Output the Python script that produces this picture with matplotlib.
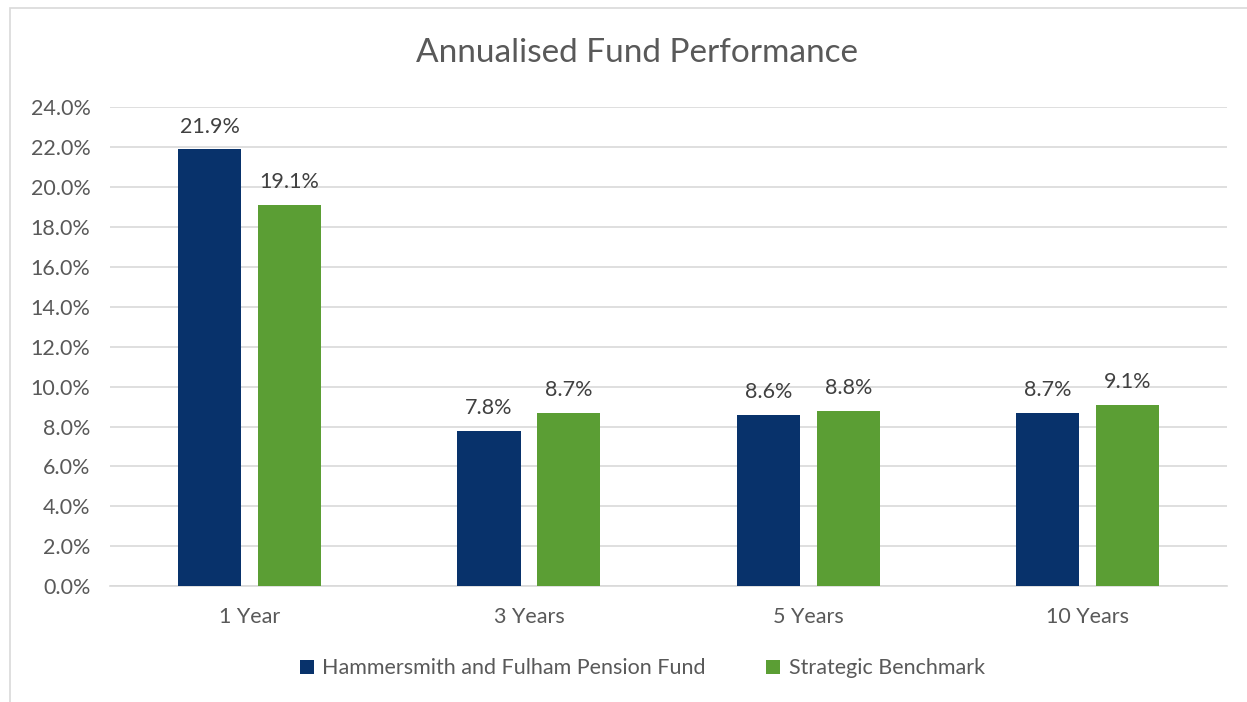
import matplotlib.pyplot as plt
from matplotlib.patches import Rectangle
import numpy as np

plt.rcParams['font.family'] = ['Lato', 'DejaVu Sans']

categories = ['1 Year', '3 Years', '5 Years', '10 Years']
fund = [21.9, 7.8, 8.6, 8.7]
benchmark = [19.1, 8.7, 8.8, 9.1]
series_names = ['Hammersmith and Fulham Pension Fund', 'Strategic Benchmark']
yticks = np.arange(0, 26, 2)

text_col = '#595959'
blue = '#08326B'
green = '#5B9E34'

fig = plt.figure(figsize=(12.47, 7.02), dpi=100)
ax = fig.add_axes([0.0882, 0.165, 0.896, 0.6823])

x = np.arange(len(categories))
w = 0.226
off = 0.143
b1 = ax.bar(x - off, fund, w, color=blue, label=series_names[0], zorder=3)
b2 = ax.bar(x + off, benchmark, w, color=green, label=series_names[1], zorder=3)

for bars in (b1, b2):
    for r in bars:
        ax.annotate(f'{r.get_height():.1f}%', (r.get_x() + r.get_width() / 2, r.get_height()),
                    xytext=(0, 9), textcoords='offset points', ha='center', va='bottom',
                    fontsize=15.5, color='#404040')

ax.set_xlim(-0.5, 3.5)
ax.set_ylim(0, 24)
ax.set_yticks(yticks)
ax.set_yticklabels([f'{v:.1f}%' for v in yticks])
ax.set_xticks(x)
ax.set_xticklabels(categories)
ax.tick_params(axis='both', length=0, labelsize=15.5, colors=text_col)
ax.tick_params(axis='x', pad=15)
ax.tick_params(axis='y', pad=14)
ax.grid(axis='y', color='#d9d9d9', linewidth=1.2, zorder=0)
for s in ['top', 'right', 'left']:
    ax.spines[s].set_visible(False)
ax.spines['bottom'].set_color('#d9d9d9')
ax.spines['bottom'].set_linewidth(1.2)

fig.text(0.511, 0.925, 'Annualised Fund Performance', ha='center', va='center',
         fontsize=24, color=text_col)

fig.legend(loc='center', bbox_to_anchor=(0.515, 0.048), ncol=2, frameon=False,
           fontsize=15.5, handlelength=0.65, handleheight=0.65, columnspacing=2.8,
           handletextpad=0.4, labelcolor=text_col)

fig.patches.append(Rectangle((10 / 1247, -0.01), 1.0, 1 - 8 / 702 + 0.01,
                             transform=fig.transFigure, fill=False,
                             edgecolor='#d9d9d9', linewidth=1.2))

fig.savefig('out.png', dpi=100)
